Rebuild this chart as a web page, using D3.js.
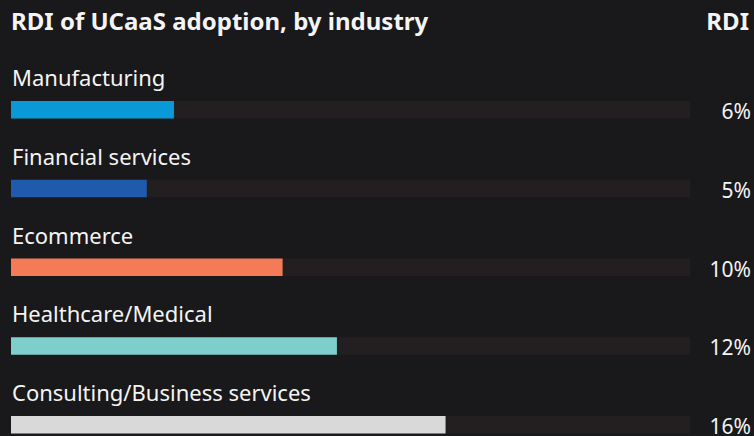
<!DOCTYPE html>
<html>
<head>
<meta charset="utf-8">
<script src="https://cdn.jsdelivr.net/npm/d3@7"></script>
<style>
  html, body { margin: 0; padding: 0; background: #19181a; }
  svg { display: block; }
  text { font-family: "Noto Sans", "Open Sans", sans-serif; fill: #f4f4f4; }
</style>
</head>
<body>
<svg id="chart" width="754" height="436"></svg>
<script>
// RDI of UCaaS adoption per industry (percent)
const industries = ["Manufacturing", "Financial services", "Ecommerce", "Healthcare/Medical", "Consulting/Business services"];
const rdiValues = [6, 5, 10, 12, 16];
const barColors = ["#0899d6", "#1f5aad", "#f47b55", "#7ecfcb", "#d9d9d9"];
const scaleMax = 25;

const W = 754, H = 436;
const svg = d3.select("#chart");
svg.append("rect").attr("width", W).attr("height", H).attr("fill", "#19181a");

const x = d3.scaleLinear().domain([0, scaleMax]).range([11, 690]);
const y = d3.scaleBand().domain(industries).range([101, 101 + 78.75 * 5]).paddingInner(0).paddingOuter(0);
const barH = 17.5;

// header
svg.append("text").attr("x", 11).attr("y", 30)
  .attr("font-size", 24).attr("font-weight", 700).text("RDI of UCaaS adoption, by industry");
svg.append("text").attr("x", 749).attr("y", 30).attr("text-anchor", "end")
  .attr("font-size", 24).attr("font-weight", 700).text("RDI");

const rows = svg.selectAll("g.row")
  .data(industries.map((name, i) => ({ name, value: rdiValues[i], color: barColors[i] })))
  .join("g").attr("class", "row")
  .attr("transform", d => `translate(0,${y(d.name)})`);

// background track
rows.append("rect")
  .attr("x", x(0)).attr("y", 0)
  .attr("width", x(scaleMax) - x(0)).attr("height", barH)
  .attr("fill", "#231f20");

// value bar
rows.append("rect")
  .attr("x", x(0)).attr("y", 0)
  .attr("width", d => x(d.value) - x(0)).attr("height", barH)
  .attr("fill", d => d.color);

// category label
rows.append("text")
  .attr("x", 12).attr("y", -15)
  .attr("font-size", 22).text(d => d.name);

// value label
rows.append("text")
  .attr("x", 751).attr("y", 18).attr("text-anchor", "end")
  .attr("font-size", 21).text(d => d.value + "%");
</script>
</body>
</html>
